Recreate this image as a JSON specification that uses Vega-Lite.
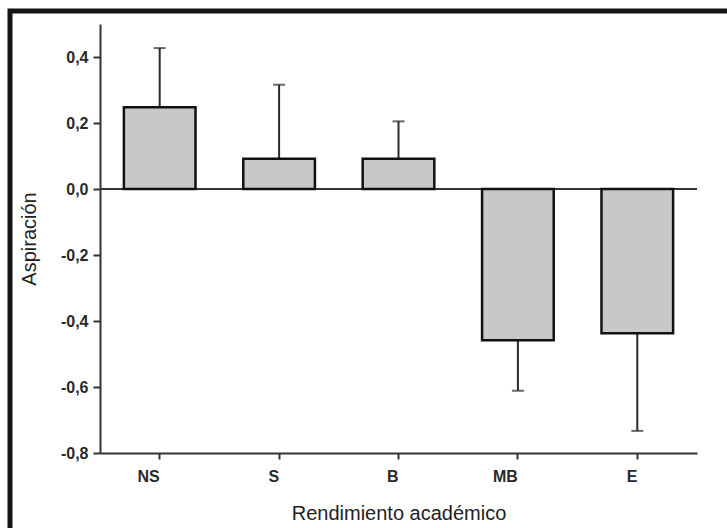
{
  "$schema": "https://vega.github.io/schema/vega-lite/v6.json",
  "width": 767,
  "height": 567,
  "autosize": {"type": "none"},
  "padding": {"left": 10, "top": 11, "right": -50, "bottom": -50},
  "background": "white",
  "config": {
    "view": {"stroke": "#151515", "strokeWidth": 5},
    "font": "Liberation Sans"
  },
  "data": {
    "values": [
      {"cat": "NS", "mean": 0.248, "err": 0.427},
      {"cat": "S", "mean": 0.092, "err": 0.316},
      {"cat": "B", "mean": 0.092, "err": 0.205},
      {"cat": "MB", "mean": -0.458, "err": -0.611},
      {"cat": "E", "mean": -0.437, "err": -0.733}
    ]
  },
  "layer": [
    {
      "mark": {"type": "rule", "color": "#333", "strokeWidth": 1.8},
      "encoding": {
        "x": {"datum": "NS", "type": "nominal", "bandPosition": -0.3333},
        "x2": {"datum": "E", "bandPosition": 1.3333},
        "y": {"datum": 0, "type": "quantitative"}
      }
    },
    {
      "mark": {"type": "rule", "color": "#2a2a2a", "strokeWidth": 2},
      "encoding": {
        "x": {"field": "cat", "type": "nominal"},
        "y": {"field": "mean", "type": "quantitative"},
        "y2": {"field": "err"}
      }
    },
    {
      "mark": {"type": "tick", "color": "#2a2a2a", "size": 12, "thickness": 2},
      "encoding": {
        "x": {"field": "cat", "type": "nominal"},
        "y": {"field": "err", "type": "quantitative"}
      }
    },
    {
      "mark": {"type": "bar", "fill": "#c9c7c9", "stroke": "#111", "strokeWidth": 2.5},
      "encoding": {
        "x": {
          "field": "cat",
          "type": "nominal",
          "sort": ["NS", "S", "B", "MB", "E"],
          "scale": {"domain": ["NS", "S", "B", "MB", "E"], "range": [90, 687], "paddingInner": 0.4, "paddingOuter": 0.2},
          "axis": {
            "title": "Rendimiento académico",
            "orient": "bottom",
            "offset": -125,
            "labelAngle": 0,
            "domainColor": "#333",
            "domainWidth": 2,
            "tickColor": "#333",
            "tickWidth": 2,
            "tickSize": 6,
            "labelFontSize": 16,
            "labelFontWeight": "bold",
            "labelColor": "#2a2a2a",
            "labelPadding": 17,
            "titleFontSize": 20,
            "titleFontWeight": "normal",
            "titleColor": "#222",
            "titlePadding": 19
          }
        },
        "y": {
          "field": "mean",
          "type": "quantitative",
          "scale": {"domain": [-0.8, 0.5], "range": [442, 13], "nice": false, "zero": false},
          "axis": {
            "title": "Aspiración",
            "offset": -90,
            "grid": false,
            "values": [-0.8, -0.6, -0.4, -0.2, 0, 0.2, 0.4],
            "labelExpr": "replace(replace(format(datum.value, '.1f'), '.', ','), '−', '-')",
            "domainColor": "#333",
            "domainWidth": 2,
            "tickColor": "#333",
            "tickWidth": 2,
            "tickSize": 7,
            "labelFontSize": 16,
            "labelFontWeight": "bold",
            "labelColor": "#2a2a2a",
            "labelPadding": 5,
            "titleFontSize": 20,
            "titleFontWeight": "normal",
            "titleColor": "#222",
            "titlePadding": 21
          }
        },
        "y2": {"datum": 0}
      }
    }
  ]
}
